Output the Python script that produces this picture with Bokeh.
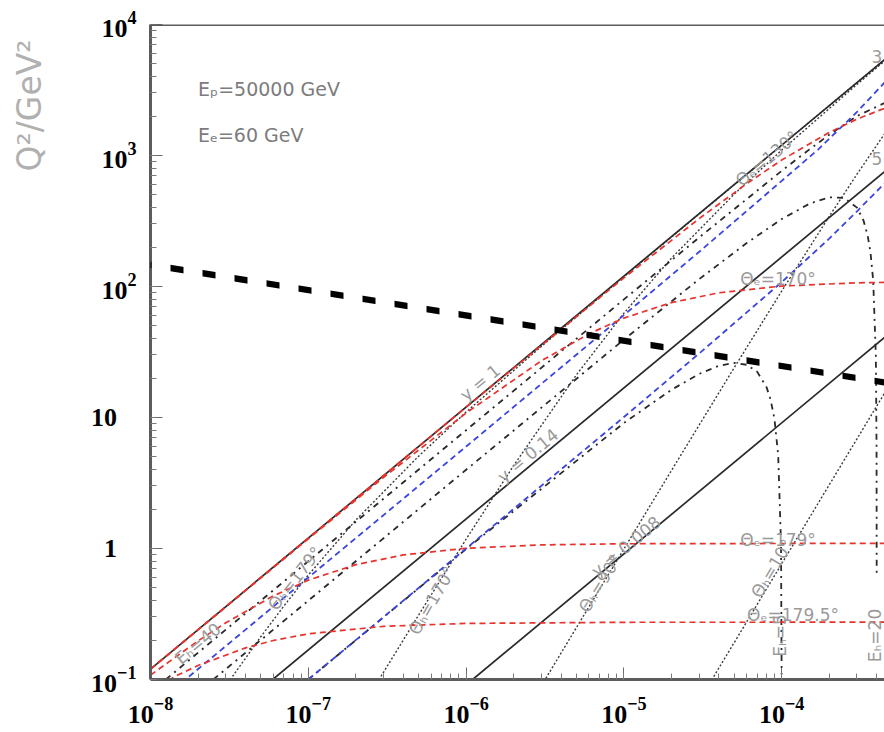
import math
from bokeh.plotting import figure
from bokeh.models import Range1d, Span, PolyAnnotation, Label, ColumnDataSource
from bokeh.core.properties import value
from bokeh.embed import file_html
from bokeh.resources import INLINE

# ---------------- data (x, Q^2 in GeV^2) ----------------
# constant-y lines (solid)
y1_x = [1e-8, 1e-3]
y1_q2 = [0.12, 12000]
y014_x = [5.95e-8, 1e-3]
y014_q2 = [0.1, 1680]
y0008_x = [1.1e-6, 1e-3]
y0008_q2 = [0.1, 91]

# constant electron angle (red dashed)
the130_x = [1e-8, 1e-6, 1e-5, 3e-5, 6e-5, 1e-4, 2e-4, 3e-4, 4.5e-4, 7e-4]
the130_q2 = [0.12, 12, 116.5, 330, 610, 923, 1500, 1895, 2298, 2710]
the170_x = [1e-8, 1e-7, 3e-7, 1e-6, 3e-6, 6e-6, 1e-5, 2e-5, 4e-5, 1e-4, 3e-4, 1e-3]
the170_q2 = [0.12, 1.187, 3.49, 10.82, 27.1, 43.5, 57.4, 75.4, 89.5, 100.8, 106.7, 109]
the179_x = [1e-8, 2e-8, 3e-8, 6e-8, 1e-7, 2e-7, 4e-7, 1e-6, 3e-6, 1e-5, 1e-3]
the179_q2 = [0.108, 0.197, 0.271, 0.435, 0.573, 0.753, 0.893, 1.005, 1.065, 1.087, 1.097]
the1795_x = [1e-8, 1.5e-8, 2e-8, 4e-8, 6e-8, 1e-7, 3e-7, 1e-6, 1e-5, 1e-3]
the1795_q2 = [0.0835, 0.1086, 0.128, 0.1744, 0.1985, 0.2231, 0.2546, 0.2679, 0.2734, 0.274]

# constant scattered-electron energy (blue dashed)
ee30_x = [1e-8, 1e-6, 1e-5, 3e-5, 1e-4, 1.7e-4, 3e-4, 4.5e-4]
ee30_q2 = [0.06, 6.0, 60.5, 184, 640, 1110, 2150, 3620]
ee55_x = [1e-7, 1e-6, 1e-5, 3e-5, 1e-4, 2e-4, 3e-4, 4.5e-4]
ee55_q2 = [0.1, 1.0, 10.08, 30.8, 108, 232, 375, 615]

# constant hadronic energy (black dash-dot)
eh40_x = [1.25e-8, 1e-7, 1e-6, 1e-5, 3e-5, 1e-4, 1.5e-4, 2e-4, 3e-4, 4.5e-4, 6e-4]
eh40_q2 = [0.1, 0.8, 8.0, 79.7, 236.9, 763.6, 1114, 1440, 2000, 2520, 2400]
eh20_x = [2.5e-8, 1e-7, 1e-6, 1e-5, 3e-5, 6e-5, 1e-4, 1.5e-4, 2e-4, 2.5e-4, 3e-4,
          3.3e-4, 3.5e-4, 3.65e-4, 3.8e-4, 3.95e-4, 3.99e-4, 3.999e-4]
eh20_q2 = [0.1, 0.4, 3.99, 39.3, 113.8, 214.7, 327.3, 428.6, 480, 473.7, 400,
           318.6, 247, 183.6, 111.2, 29.4, 5.98, 0.6]
eh5_x = [1e-7, 1e-6, 1e-5, 2e-5, 3e-5, 4e-5, 5e-5, 6e-5, 7e-5, 8e-5, 8.5e-5,
         9e-5, 9.5e-5, 9.9e-5, 9.99e-5]
eh5_q2 = [0.1, 0.991, 9.08, 16.27, 21.54, 24.83, 26.09, 25.26, 22.3, 17.14, 13.72,
          9.73, 5.16, 1.079, 0.109]

# constant hadronic angle (fine dotted)
thh179_x = [3.2e-8, 5e-8, 7e-8, 1e-7, 2e-7, 5e-7, 1e-6, 3e-6, 1e-5, 1e-4, 1e-3]
thh179_q2 = [0.0996, 0.212, 0.364, 0.627, 1.647, 5.07, 11.0, 34.9, 118.9, 1199, 12000]
thh170_x = [2.8e-7, 5e-7, 7e-7, 1e-6, 2e-6, 5e-6, 1e-5, 2e-5, 5e-5, 1e-4, 3e-4, 1e-3]
thh170_q2 = [0.0994, 0.31, 0.595, 1.178, 4.29, 21.15, 62.57, 164.5, 506.9, 1099, 3493, 11891]
thh90_x = [3.2e-6, 5e-6, 1e-5, 2e-5, 5e-5, 1e-4, 2e-4, 3e-4, 4.5e-4, 6e-4]
thh90_q2 = [0.102, 0.249, 0.992, 3.934, 24.0, 92.3, 342.9, 720, 1472.7, 2400]
thh10_x = [3.6e-5, 5e-5, 1e-4, 2e-4, 3e-4, 4.5e-4, 6e-4]
thh10_q2 = [0.0992, 0.1913, 0.765, 3.058, 6.876, 15.46, 27.45]

# thick dashed overlay line
cut_x = [1.11e-9, 4.48e-4]
cut_q2 = [224, 18.5]

# ---------------- figure ----------------
X0, X1 = 1e-8, 10 ** -3.3486
Y0, Y1 = 0.1, 1e4

p = figure(width=884, height=732, x_axis_type="log", y_axis_type="log",
           x_range=Range1d(X0, X1), y_range=Range1d(Y0, Y1),
           output_backend="svg", toolbar_location=None,
           min_border_left=150, min_border_right=0, min_border_top=24,
           min_border_bottom=53)
p.outline_line_color = None
p.grid.visible = False
p.background_fill_color = "white"
p.border_fill_color = "white"

for ax in (p.xaxis[0], p.yaxis[0]):
    ax.axis_line_color = "#5c5c5c"
    ax.axis_line_width = 3
    ax.major_tick_in = 12
    ax.major_tick_out = 0
    ax.minor_tick_in = 6
    ax.minor_tick_out = 0
    ax.major_tick_line_color = "#6a6a6a"
    ax.minor_tick_line_color = "#7a7a7a"
    ax.major_label_text_font = "Liberation Serif"
    ax.major_label_text_font_style = "bold"
    ax.major_label_text_font_size = "26px"
    ax.major_label_text_color = "black"
    ax.ticker.num_minor_ticks = 10
p.yaxis[0].major_label_standoff = 14
p.xaxis[0].major_label_standoff = 18
p.yaxis[0].major_label_overrides = {1: "1\u00a0\u00a0\u00a0", 10: "10\u00a0\u00a0\u00a0"}

p.add_layout(Span(location=Y1, dimension="width", line_color="#5c5c5c", line_width=3))

BLACK = "#2a2a2a"
RED = "#e8322c"
BLUE = "#3a44e0"

# dotted hadron-angle lines
for xs, ys in ((thh179_x, thh179_q2), (thh170_x, thh170_q2), (thh90_x, thh90_q2), (thh10_x, thh10_q2)):
    p.line(xs, ys, line_color="#3a3a3a", line_width=1.4, line_dash="2 2")
# dash-dot hadron-energy lines
for xs, ys in ((eh40_x, eh40_q2), (eh20_x, eh20_q2), (eh5_x, eh5_q2)):
    p.line(xs, ys, line_color=BLACK, line_width=1.8, line_dash="6 5 2 5")
# blue electron-energy lines
for xs, ys in ((ee30_x, ee30_q2), (ee55_x, ee55_q2)):
    p.line(xs, ys, line_color=BLUE, line_width=1.8, line_dash="6 4")
# solid y lines
for xs, ys in ((y1_x, y1_q2), (y014_x, y014_q2), (y0008_x, y0008_q2)):
    p.line(xs, ys, line_color=BLACK, line_width=1.7)
# red electron-angle lines
for xs, ys in ((the130_x, the130_q2), (the170_x, the170_q2), (the179_x, the179_q2), (the1795_x, the1795_q2)):
    p.line(xs, ys, line_color=RED, line_width=1.7, line_dash="6 4")


def at(px, py):
    """pixel position in the picture -> data coordinates"""
    return 10 ** (-8 + (px - 150.5) / 157.8), 10 ** (4 - (py - 24) / 131.0)


# info texts
info = [("E\u209a=50000 GeV", 198, 88), ("E\u2091=60 GeV", 198, 134)]
src_info = ColumnDataSource(dict(
    x=[at(a, b)[0] for _, a, b in info], y=[at(a, b)[1] for _, a, b in info],
    t=[t for t, _, _ in info]))
p.text("x", "y", text="t", source=src_info, text_align="left", text_baseline="middle",
       text_font=value("DejaVu Sans"), text_font_size="19px", text_color="#7c7c7c")

# line labels
labels = [
    ("y = 1", 480, 382, 39.7),
    ("y = 0.14", 528, 455, 39.7),
    ("y = 0.008", 626, 546, 39.7),
    ("\u0398\u2091=130\u00b0", 767, 158, 39.7),
    ("\u0398\u2091=170\u00b0", 778, 278, 0),
    ("\u0398\u2091=179\u00b0", 778, 539, 0),
    ("\u0398\u2091=179.5\u00b0", 793, 614, 0),
    ("\u0398\u2095=179\u00b0", 295, 578, 51.7),
    ("\u0398\u2095=170\u00b0", 432, 600, 60),
    ("\u0398\u2095=90\u00b0", 600, 583, 58),
    ("\u0398\u2095=10\u00b0", 772, 568, 59),
    ("E\u2095=40", 198, 643, 39.7),
    ("E\u2095=5", 780, 635, 90),
    ("E\u2095=20", 875, 635, 90),
    ("3", 877, 56, 0),
    ("5", 877, 158, 0),
]
src_lab = ColumnDataSource(dict(
    x=[at(a, b)[0] for _, a, b, _ in labels], y=[at(a, b)[1] for _, a, b, _ in labels],
    t=[t for t, _, _, _ in labels], ang=[math.radians(g) for _, _, _, g in labels]))
p.text("x", "y", text="t", angle="ang", source=src_lab, text_align="center",
       text_baseline="middle", text_font=value("DejaVu Sans"), text_font_size="17px",
       text_color="#9a9a9a")

# axis title (placed in the left side panel so it is not clipped to the frame)
tx, ty = at(30, 105)
p.add_layout(Label(x=tx, y=ty, text="Q\u00b2/GeV\u00b2", angle=math.pi / 2,
                   text_align="center", text_baseline="middle", text_font="DejaVu Sans",
                   text_font_size="33px", text_color="#b0b0b0"), "left")

# thick dashed line across the whole picture: a thin band (6 px thick) filled with a
# vertical-stripe hatch, placed in the side panel so it also covers the axis area
half = 10 ** (3.2 / 131.0)
band = PolyAnnotation(
    xs=[cut_x[0], cut_x[1], cut_x[1], cut_x[0]],
    ys=[cut_q2[0] * half, cut_q2[1] * half, cut_q2[1] / half, cut_q2[0] / half],
    fill_color=None, line_color=None,
    hatch_pattern="vertical_line", hatch_scale=32, hatch_weight=13,
    hatch_color="black", hatch_alpha=1.0)
p.add_layout(band, "left")

open("out.html", "w").write(file_html(p, INLINE))
